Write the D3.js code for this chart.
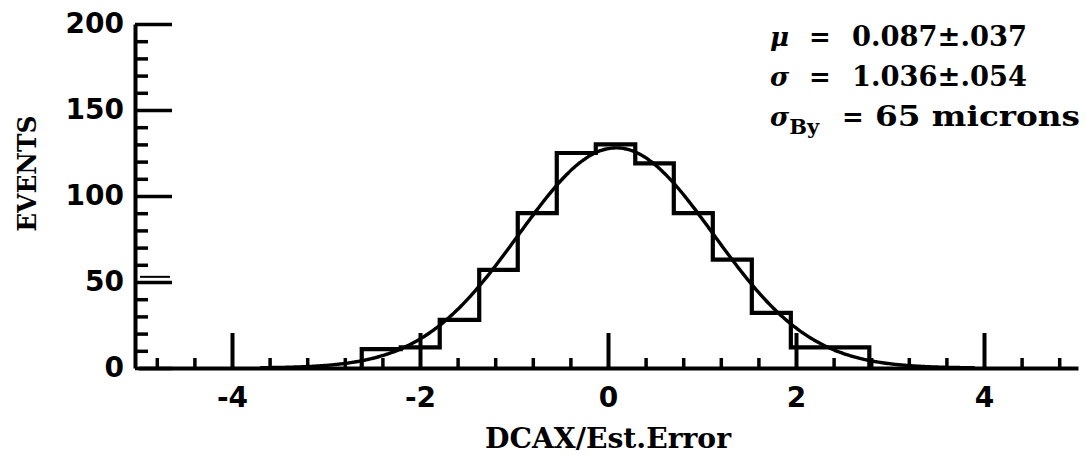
<!DOCTYPE html>
<html>
<head>
<meta charset="utf-8">
<script src="https://cdn.jsdelivr.net/npm/d3@7/dist/d3.min.js"></script>
<style>
  html, body { margin: 0; padding: 0; background: #fff; }
  svg { display: block; }
</style>
</head>
<body>
<svg id="chart" width="1086" height="456"></svg>
<script>
// Histogram of DCAX / estimated error with a Gaussian fit
const binEdges = [-2.62, -2.205, -1.79, -1.37, -0.96, -0.545, -0.13, 0.29, 0.70, 1.115, 1.53, 1.945, 2.36, 2.78];
const binCounts = [11, 12, 28, 57, 90, 125, 130, 119, 90, 63, 32, 12, 12];

const xMajorTicks = [-4, -2, 0, 2, 4];
const xMinorTicks = [-4.8, -4.4, -3.6, -3.2, -2.8, -2.4, -1.6, -1.2, -0.8, -0.4,
                     0.4, 0.8, 1.2, 1.6, 2.4, 2.8, 3.2, 3.6, 4.4, 4.8];
const yMajorTicks = [0, 50, 100, 150, 200];
const yMinorTicks = [10, 20, 30, 40, 60, 70, 80, 90, 110, 120, 130, 140, 160, 170, 180, 190];

// Fit results
const fitMu = 0.087;
const fitSigma = 1.036;
const fitPeak = 128;
const fitRange = [-3.7, 3.9];

const statLines = [
  { sym: "μ", sub: "", value: "0.087±.037" },
  { sym: "σ", sub: "", value: "1.036±.054" },
  { sym: "σ", sub: "By", value: "65 microns" }
];

const svg = d3.select("#chart");
const x = d3.scaleLinear().domain([-5, 5]).range([138, 1078]);
const y = d3.scaleLinear().domain([0, 200]).range([368, 24]);

const ink = "#000";
const numFont = "'DejaVu Sans', sans-serif";
const serifFont = "'DejaVu Serif', serif";

// X axis: major ticks with labels, minor ticks, baseline
const xAxisG = svg.append("g").attr("transform", `translate(0,${y(0)})`);
xAxisG.call(d3.axisBottom(x).tickValues(xMajorTicks).tickSize(-35).tickSizeOuter(0)
  .tickPadding(19).tickFormat(d => d < 0 ? "-" + Math.abs(d) : String(d)));
xAxisG.select(".domain").attr("stroke-width", 4).attr("stroke", ink);
xAxisG.selectAll(".tick line").attr("stroke-width", 4).attr("stroke", ink);
xAxisG.selectAll(".tick text").attr("font-family", numFont).attr("font-weight", "bold")
  .attr("font-size", 28).attr("fill", ink);

const xMinorG = svg.append("g").attr("transform", `translate(0,${y(0)})`);
xMinorG.call(d3.axisBottom(x).tickValues(xMinorTicks).tickSize(-10).tickFormat(""));
xMinorG.select(".domain").remove();
xMinorG.selectAll(".tick line").attr("stroke-width", 3.5).attr("stroke", ink);

// Y axis
const yAxisG = svg.append("g").attr("transform", `translate(${x(-5) - 3},0)`);
yAxisG.call(d3.axisLeft(y).tickValues(yMajorTicks).tickSize(-37).tickSizeOuter(0)
  .tickPadding(11));
yAxisG.select(".domain").attr("stroke-width", 4).attr("stroke", ink);
yAxisG.selectAll(".tick line").attr("stroke-width", 3.5).attr("stroke", ink);
yAxisG.selectAll(".tick text").attr("font-family", numFont).attr("font-weight", "bold")
  .attr("font-size", 28).attr("fill", ink);

const yMinorG = svg.append("g").attr("transform", `translate(${x(-5) - 3},0)`);
yMinorG.call(d3.axisLeft(y).tickValues(yMinorTicks).tickSize(-13).tickFormat(""));
yMinorG.select(".domain").remove();
yMinorG.selectAll(".tick line").attr("stroke-width", 3.5).attr("stroke", ink);

// doubled stroke beside the 50 tick
svg.append("line")
  .attr("x1", x(-5) + 2).attr("x2", x(-5) + 32)
  .attr("y1", y(53)).attr("y2", y(53))
  .attr("stroke", ink).attr("stroke-width", 2);

// Histogram outline (step path)
const histPts = [[binEdges[0], 0]];
binCounts.forEach((c, i) => {
  histPts.push([binEdges[i], c]);
  histPts.push([binEdges[i + 1], c]);
});
histPts.push([binEdges[binEdges.length - 1], 0]);

svg.append("path")
  .attr("d", d3.line().x(d => x(d[0])).y(d => y(d[1]))(histPts))
  .attr("fill", "none").attr("stroke", ink).attr("stroke-width", 4.2)
  .attr("stroke-linejoin", "miter");

// Gaussian fit curve
const gauss = v => fitPeak * Math.exp(-0.5 * Math.pow((v - fitMu) / fitSigma, 2));
const curveXs = d3.range(fitRange[0], fitRange[1] + 1e-9, 0.02);
svg.append("path")
  .attr("d", d3.line().x(v => x(v)).y(v => y(gauss(v))).curve(d3.curveBasis)(curveXs))
  .attr("fill", "none").attr("stroke", ink).attr("stroke-width", 3.4);

// Axis titles
svg.append("text")
  .attr("x", x(0)).attr("y", 448)
  .attr("text-anchor", "middle")
  .attr("font-family", serifFont).attr("font-weight", "bold").attr("font-size", 27)
  .attr("textLength", 246).attr("lengthAdjust", "spacingAndGlyphs")
  .attr("fill", ink)
  .text("DCAX/Est.Error");

svg.append("text")
  .attr("transform", `translate(36,${y(113)}) rotate(-90)`)
  .attr("text-anchor", "middle")
  .attr("font-family", serifFont).attr("font-weight", "bold").attr("font-size", 26)
  .attr("textLength", 116).attr("lengthAdjust", "spacingAndGlyphs")
  .attr("fill", ink)
  .text("EVENTS");

// Fit parameters
const statG = svg.append("g");
const baselines = [46, 86, 126];
statLines.forEach((s, i) => {
  const t = statG.append("text")
    .attr("x", 770).attr("y", baselines[i])
    .attr("font-family", serifFont).attr("font-weight", "bold").attr("font-size", 26)
    .attr("fill", ink);
  t.append("tspan").attr("font-style", "italic").text(s.sym);
  if (s.sub) {
    t.append("tspan").attr("font-size", 21).attr("dy", 8).text(s.sub);
  }
  statG.append("text")
    .attr("x", s.sub ? 853 : 820).attr("y", baselines[i])
    .attr("text-anchor", "middle")
    .attr("font-family", serifFont).attr("font-weight", "bold").attr("font-size", 26)
    .attr("fill", ink).text("=");
  statG.append("text")
    .attr("x", s.sub ? 875 : 852).attr("y", baselines[i])
    .attr("font-family", serifFont).attr("font-weight", "bold").attr("font-size", 27)
    .attr("textLength", s.sub ? 205 : 175).attr("lengthAdjust", "spacingAndGlyphs")
    .attr("fill", ink).text(s.value);
});
</script>
</body>
</html>
